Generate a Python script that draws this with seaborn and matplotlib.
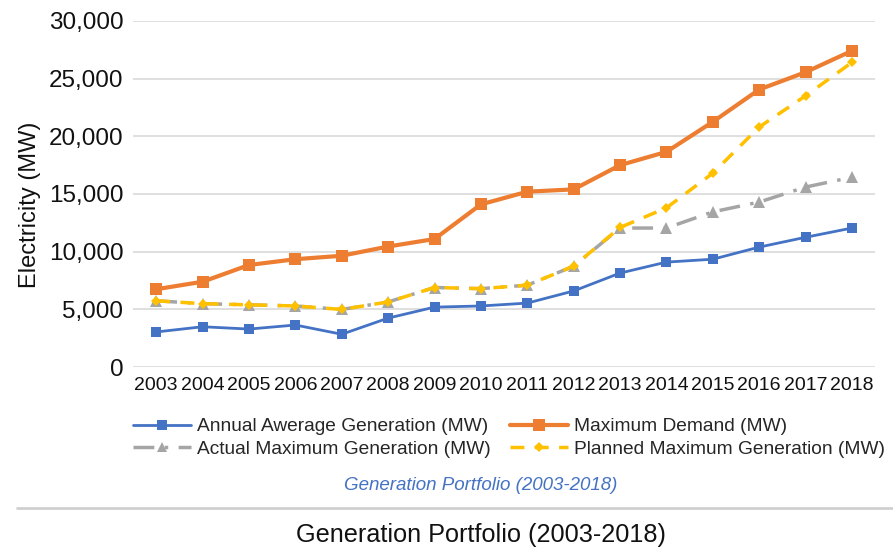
import matplotlib
matplotlib.use('Agg')
import matplotlib.pyplot as plt
import seaborn as sns
import numpy as np
from matplotlib.lines import Line2D

# dados
anos = list(range(2003, 2019))
geracao_media = [3050, 3500, 3300, 3650, 2850, 4250, 5200, 5300, 5550, 6600,
                 8150, 9100, 9350, 10400, 11250, 12050]
demanda_maxima = [6750, 7400, 8850, 9350, 9650, 10450, 11100, 14100, 15200, 15400,
                  17500, 18650, 21250, 24050, 25550, 27400]
geracao_max_real = [5750, 5500, 5400, 5300, 5000, 5650, 6900, 6800, 7100, 8750,
                    12050, 12050, 13450, 14300, 15600, 16450]
geracao_max_planejada = [5750, 5500, 5400, 5300, 5000, 5650, 6900, 6800, 7100, 8750,
                         12100, 13800, 16800, 20800, 23500, 26400]
rotulos = ['Annual Awerage Generation (MW)', 'Maximum Demand (MW)',
           'Actual Maximum Generation (MW)', 'Planned Maximum Generation (MW)']
yticks = [0, 5000, 10000, 15000, 20000, 25000, 30000]

sns.set_theme(style='white')
plt.rcParams['font.family'] = ['Liberation Sans', 'DejaVu Sans']

fig = plt.figure(figsize=(8.93, 5.48), dpi=100)
ax = fig.add_axes([0.149, 0.330, 0.831, 0.632])

azul = '#4472c4'
laranja = '#ed7d31'
cinza = '#a5a5a5'
amarelo = '#ffc000'

sns.lineplot(x=anos, y=geracao_max_real, ax=ax, color=cinza, lw=2.5,
             linestyle=(0, (6, 3, 1, 3)), marker='^', markersize=8,
             markeredgewidth=0, label=rotulos[2])
sns.lineplot(x=anos, y=geracao_max_planejada, ax=ax, color=amarelo, lw=2.5,
             linestyle=(0, (4, 3)), marker='D', markersize=5,
             markeredgewidth=0, label=rotulos[3])
sns.lineplot(x=anos, y=geracao_media, ax=ax, color=azul, lw=2,
             marker='s', markersize=7, markeredgewidth=0, label=rotulos[0])
sns.lineplot(x=anos, y=demanda_maxima, ax=ax, color=laranja, lw=3,
             marker='s', markersize=9, markeredgewidth=0, label=rotulos[1])
ax.get_legend().remove()

ax.set_xlim(2002.5, 2018.5)
ax.set_ylim(0, 30000)
ax.set_xticks(anos)
ax.set_xticklabels([str(a) for a in anos], fontsize=14)
ax.set_yticks(yticks)
ax.set_yticklabels([f'{v:,}' for v in yticks], fontsize=17.5)
ax.tick_params(axis='both', length=0, colors='#111111')
ax.tick_params(axis='x', pad=7)
ax.tick_params(axis='y', pad=7)
ax.yaxis.grid(True, color='#d9d9d9', lw=1.2)
ax.xaxis.grid(False)
for s in ax.spines.values():
    s.set_visible(False)
ax.set_ylabel('Electricity (MW)', fontsize=17, color='#111111')
ax.yaxis.set_label_coords(-0.124, 0.47)
ax.set_xlabel('')

# legenda na ordem do original (preenchida por coluna)
handles = [
    Line2D([], [], color=azul, lw=2, marker='s', markersize=7, markeredgewidth=0),
    Line2D([], [], color=cinza, lw=2.5, linestyle=(0, (6, 3, 1, 3)), marker='^', markersize=7, markeredgewidth=0),
    Line2D([], [], color=laranja, lw=3, marker='s', markersize=8, markeredgewidth=0),
    Line2D([], [], color=amarelo, lw=2.5, linestyle=(0, (4, 3)), marker='D', markersize=5, markeredgewidth=0),
]
labels = [rotulos[0], rotulos[2], rotulos[1], rotulos[3]]
fig.legend(handles, labels, ncol=2, frameon=False, fontsize=13.8,
           loc='upper left', bbox_to_anchor=(133 / 893, 1 - 418 / 548),
           borderpad=0, borderaxespad=0, handlelength=3.0, handletextpad=0.35,
           columnspacing=1.0, labelspacing=0.25)

fig.text(481 / 893, 1 - 485 / 548, 'Generation Portfolio (2003-2018)', color=azul,
         fontsize=13.5, style='italic', ha='center', va='center')
fig.add_artist(Line2D([17 / 893, 1.0], [1 - 508 / 548] * 2, color='#d0d0d0', lw=2))
fig.text(481 / 893, 1 - 535 / 548, 'Generation Portfolio (2003-2018)', color='#111111',
         fontsize=18.2, ha='center', va='center')

fig.savefig('out.png', dpi=100)
